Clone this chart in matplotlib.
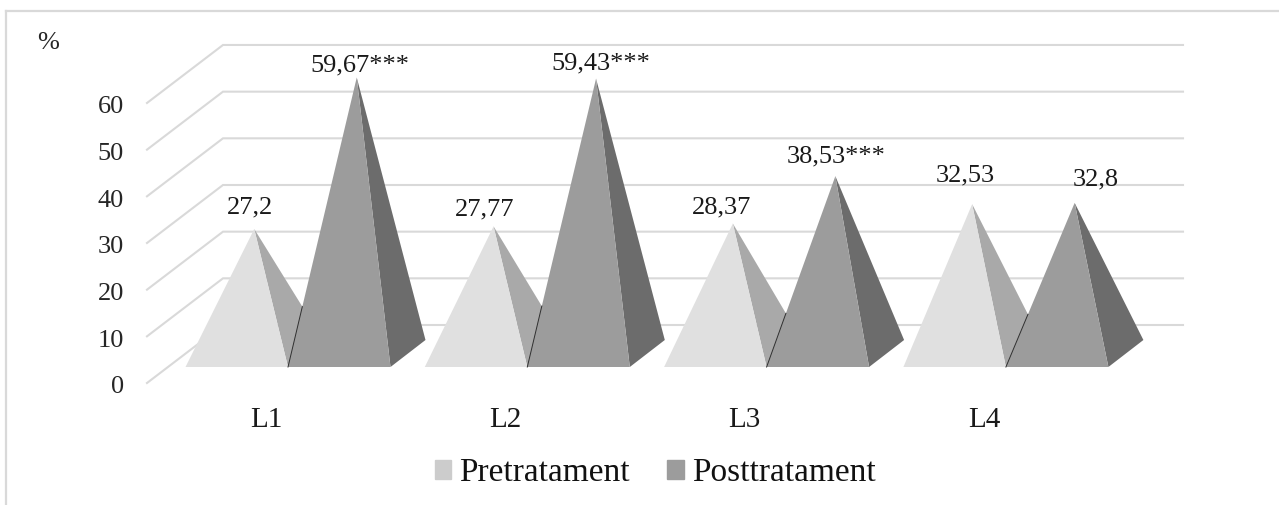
import numpy as np
import matplotlib.pyplot as plt
from matplotlib.patches import Patch

plt.rcParams['font.family'] = ['Liberation Serif', 'DejaVu Serif']

groups = ['L1', 'L2', 'L3', 'L4']
pre = [27.2, 27.77, 28.37, 32.53]
post = [59.67, 59.43, 38.53, 32.8]
pre_labels = ['27,2', '27,77', '28,37', '32,53']
post_labels = ['59,67***', '59,43***', '38,53***', '32,8']
y_ticks = [0, 10, 20, 30, 40, 50, 60]

# hand placed label offsets from the pyramid top, in pixels
pre_off = [(-4, 22), (-9, 17), (-11, 16), (-7, 29)]
post_off = [(3, 12), (5, 15), (1, 20), (21, 23)]

W, H = 1279, 505
step = 239.3   # px per group
unit = 4.667   # px per percent
x0, y0 = 288, 383  # pixel of x=0 / y=0

fig = plt.figure(figsize=(W/100, H/100), dpi=100)
ax = fig.add_axes([6/W, 0, 1-6/W, 1-11/H])
ax.set_xlim((6-x0)/step, (W-x0)/step)
ax.set_ylim((y0-H)/unit, (y0-11)/unit)
ax.set_xticks([])
ax.set_yticks([])
for s in ['right', 'bottom']:
    ax.spines[s].set_visible(False)
for s in ['left', 'top']:
    ax.spines[s].set_color('#d9d9d9')
    ax.spines[s].set_linewidth(1.6)

# back wall and floor lines
wall_dx, wall_dy = 76/step, 58/unit
x_front, x_end = (147-x0)/step, (1183-x0)/step
for v in y_ticks:
    ax.plot([x_front, x_front+wall_dx, x_end], [v, v+wall_dy, v+wall_dy],
            color='#d9d9d9', lw=1.5, zorder=1, solid_joinstyle='miter')
    ax.text((124-x0)/step, v-0.9, str(v), ha='right', va='center', fontsize=19, color='#262626')
ax.text((48-x0)/step, (y0-43)/unit, '%', ha='center', va='center', fontsize=19, color='#262626')

base_w = 102.5/step
depth_x, depth_y = 35/step, 27/unit
floor = 16/unit
top_shift = 5.8


def pyramid(left, value, front_col, side_col, z):
    top = (left+(base_w+depth_x)/2, value+top_shift)
    fr = (left+base_w, floor)
    back = (fr[0]+depth_x, floor+depth_y)
    ax.fill(*zip(top, fr, back), color=side_col, lw=0, zorder=z)
    ax.fill(*zip(top, (left, floor), fr), color=front_col, lw=0, zorder=z+0.1)
    return top, fr, back


for i, g in enumerate(groups):
    z = 2+i
    left_pre = i-base_w
    top_a, fr_a, back_a = pyramid(left_pre, pre[i], '#e0e0e0', '#a9a9a9', z)
    top_b, fr_b, back_b = pyramid(i, post[i], '#9c9c9c', '#6c6c6c', z+0.2)

    # dark seam: post left edge up to where it leaves the pre side face
    p = np.array([i, floor])
    d = np.array(top_b)-p
    q = np.array(top_a)
    e = np.array(back_a)-q
    t = np.cross(q-p, e)/np.cross(d, e)
    seam = p+t*d
    ax.plot([p[0], seam[0]], [p[1], seam[1]], color='#303030', lw=0.7, zorder=z+0.5)

    ax.annotate(pre_labels[i], top_a, xytext=pre_off[i], textcoords='offset pixels',
                ha='center', va='center', fontsize=19, color='#1a1a1a', zorder=10)
    ax.annotate(post_labels[i], top_b, xytext=post_off[i], textcoords='offset pixels',
                ha='center', va='center', fontsize=19, color='#1a1a1a', zorder=10)
    ax.text(i+(266-288)/step, (y0-420)/unit, g, ha='center', va='center', fontsize=21, color='#1a1a1a')

handles = [Patch(color='#cccccc', label='Pretratament'), Patch(color='#9c9c9c', label='Posttratament')]
ax.legend(handles=handles, loc='center', bbox_to_anchor=((655-6)/(W-6), (H-473)/(H-11)), ncol=2, frameon=False,
          fontsize=24, handlelength=0.5, handleheight=0.5, handletextpad=0.24, columnspacing=1.11,
          labelcolor='#111111')

fig.savefig('out.png', dpi=100)
